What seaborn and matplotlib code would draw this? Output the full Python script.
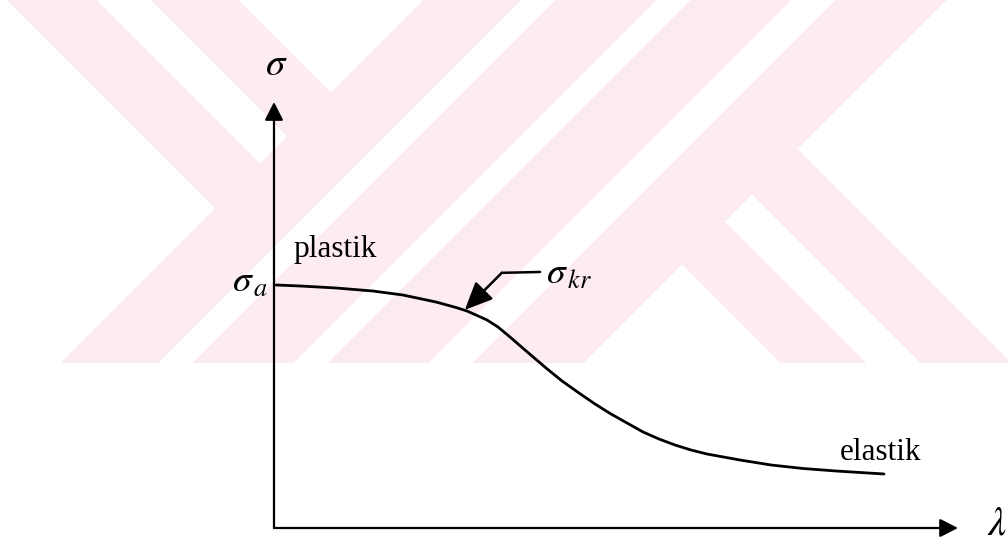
import numpy as np
import pandas as pd
import matplotlib
matplotlib.use("Agg")
import matplotlib.pyplot as plt
import seaborn as sns

# Critical stress vs. slenderness curve (arbitrary units)
lam = [0.29, 3.80, 9.06, 14.47, 18.86, 23.68, 26.61, 28.22, 31.14, 32.75,
       34.50, 36.70, 39.77, 42.11, 44.59, 46.93, 49.27, 51.61, 53.95, 56.29,
       58.63, 60.96, 63.30, 68.13, 72.66, 77.34, 82.16, 85.67, 89.18]
sigma = [57.04, 56.81, 56.34, 55.63, 54.69, 53.05, 51.76, 50.94, 48.83,
         47.18, 44.84, 41.78, 37.56, 34.51, 31.69, 29.11, 26.76, 24.65,
         22.54, 20.89, 19.48, 18.31, 17.37, 15.96, 14.79, 13.97, 13.38,
         13.03, 12.68]

# Axis extents and the point marked as sigma_kr
lam_max = 100.0
sigma_max = 100.0
kr_point = (27.9, 51.2)

region_labels = ["plastik", "elastik"]

df = pd.DataFrame({"lam": lam, "sigma": sigma})

sns.set_theme(style="white")
plt.rcParams["font.family"] = ["Liberation Serif", "DejaVu Serif"]
plt.rcParams["mathtext.fontset"] = "stix"
plt.rcParams["text.color"] = "black"

W, H = 1008, 544
fig = plt.figure(figsize=(W / 100, H / 100), dpi=100)
fig.patch.set_facecolor("white")

# Background watermark: pale diagonal bands
ax_bg = fig.add_axes([0, 0, 1, 1])
yy, xx = np.mgrid[0:H, 0:W] + 0.5
s = xx + yy
d = xx - yy
pink = np.zeros((H, W), bool)
pink |= (s < 424) & (((d >= 7) & (d <= 96)) | ((d >= 151) & (d <= 238)))
for a, b in [(424, 521), (556, 656), (691, 791), (836, 946)]:
    pink |= (s >= a) & (s <= b)
pink |= (s > 946) & (((d >= 418) & (d <= 503)) | ((d >= 558) & (d <= 648)))
pink &= yy <= 363
img = np.ones((H, W, 3))
img[pink] = np.array([252, 235, 239]) / 255.0
ax_bg.imshow(img, extent=(0, W, H, 0), interpolation="bilinear", aspect="auto")
ax_bg.set_xlim(0, W)
ax_bg.set_ylim(H, 0)
ax_bg.axis("off")

# Main drawing axes
ax = fig.add_axes([0, 0, 1, 1])
ax.patch.set_alpha(0)
px_x = lam_max / 684.0
px_y = sigma_max / 426.0
ax.set_xlim(-274 * px_x, (W - 274) * px_x)
ax.set_ylim(-(H - 528) * px_y, 528 * px_y)
ax.axis("off")

sns.lineplot(data=df, x="lam", y="sigma", ax=ax, color="black", lw=2.0,
             sort=False, estimator=None)

axis_arrow = dict(arrowstyle="-|>,head_length=0.55,head_width=0.28",
                  color="black", lw=1.6, shrinkA=0, shrinkB=0,
                  mutation_scale=20)
ax.annotate("", xy=(0, sigma_max), xytext=(0, 0), arrowprops=axis_arrow)
ax.annotate("", xy=(lam_max, 0), xytext=(0, 0), arrowprops=axis_arrow)

ax.text(0.3, 108.5, r"$\sigma$", fontsize=28, ha="center", va="center")
ax.text(105.7, 0.8, r"$\lambda$", fontsize=29, ha="center", va="center")
ax.text(-0.9, 57.5, r"$\sigma_{\,a}$", fontsize=27, ha="right", va="center")

ax.text(2.8, 63.6, region_labels[0], fontsize=22.5, ha="left",
        va="baseline", color="black")
ax.text(82.7, 16.0, region_labels[1], fontsize=22.5, ha="left",
        va="baseline", color="black")

# sigma_kr callout
ax.plot([33.3, 38.9], [59.9, 60.1], color="black", lw=1.8)
ax.annotate("", xy=kr_point, xytext=(33.3, 59.9),
            arrowprops=dict(arrowstyle="-|>,head_length=0.85,head_width=0.38",
                            color="black", lw=1.8, shrinkA=0, shrinkB=0,
                            mutation_scale=20))
ax.text(39.8, 59.5, r"$\sigma_{\,kr}$", fontsize=27, ha="left", va="center")

fig.savefig("out.png", dpi=100, facecolor="white")
